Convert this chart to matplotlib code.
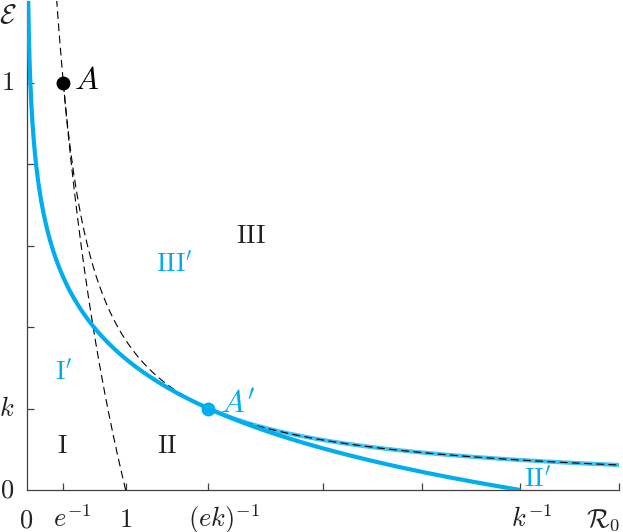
import numpy as np
import matplotlib
matplotlib.use("Agg")
import matplotlib.pyplot as plt

plt.rcParams["mathtext.fontset"] = "cm"
plt.rcParams["font.family"] = ["DejaVu Serif"]

BLUE = "#00aeef"
DARK = "#222222"

# model constant: k tick sits at 0.2, k^-1 at 5
k = 0.2
x_max, y_max = 6.0, 1.2

# special points
point_A = (np.exp(-1), 1.0)
point_A2 = (1 / (np.e * k), k)

# ticks (marks) and the labelled ones
x_tick_pos = [np.exp(-1), 1, 1 / (np.e * k), 3, 4, 1 / k, 6]
x_label_pos = [0, np.exp(-1), 1, 1 / (np.e * k), 1 / k]
x_label_txt = ["$0$", "$e^{-1}$", "$1$", "$(ek)^{-1}$", "$k^{-1}$"]
x_label_shift = [-1, 9, 0, 15, 11]  # px, centre the base, superscript hangs
y_tick_pos = [0.2, 0.4, 0.6, 0.8, 1.0]
y_label_pos = [0, k, 1.0]
y_label_txt = ["$0$", "$k$", "$1$"]

# region labels (x centre, y baseline, text, colour)
region_x = [0.355, 1.42, 2.27, 0.37, 5.17, 1.49]
region_y = [0.091, 0.091, 0.606, 0.27, 0.008, 0.535]
region_txt = [r"$\mathrm{I}$", r"$\mathrm{II}$", r"$\mathrm{III}$",
              r"$\mathrm{I}'$", r"$\mathrm{II}'$", r"$\mathrm{III}'$"]
region_col = [DARK, DARK, DARK, BLUE, BLUE, BLUE]

# curves
r_log = np.linspace(np.exp(-1.25), 1, 300)
e_log = -np.log(r_log)                      # E = -ln R0
r_hyp = np.linspace(np.exp(-1), x_max, 600)
e_hyp = 1 / (np.e * r_hyp)                   # E = 1/(e R0)
r_hyp_b = np.linspace(point_A2[0], x_max, 400)
e_hyp_b = 1 / (np.e * r_hyp_b)
r_main = np.linspace(0.006, 1 / k, 800)
e_main = -k * np.log(k * r_main)             # E = -k ln(k R0)

fig = plt.figure(figsize=(6.23, 5.32), dpi=100)
ax = fig.add_axes([27 / 623, 42 / 532, 592 / 623, 489 / 532])

ax.plot(r_hyp_b, e_hyp_b, color=BLUE, lw=3.0, alpha=0.75, zorder=2,
        solid_capstyle="butt")
ax.plot(r_log, e_log, color="black", lw=0.8, dashes=(7, 4), zorder=3)
ax.plot(r_hyp, e_hyp, color="black", lw=0.8, dashes=(7, 4), zorder=3)
ax.plot(r_main, e_main, color=BLUE, lw=3.0, zorder=4, solid_capstyle="butt")

ax.plot(*point_A, "o", color="black", ms=9, zorder=5)
ax.plot(*point_A2, "o", color=BLUE, ms=9, zorder=5)
ax.annotate("$A$", point_A, xytext=(8, -5), textcoords="offset points",
            fontsize=23, ha="left", va="baseline", color="black")
ax.annotate("$A'$", point_A2, xytext=(8, -3), textcoords="offset points",
            fontsize=23, ha="left", va="baseline", color=BLUE)

for x, y, t, c in zip(region_x, region_y, region_txt, region_col):
    ax.text(x, y, t, fontsize=19, color=c, ha="center", va="baseline")

ax.set_xlim(0, x_max)
ax.set_ylim(0, y_max)
ax.set_xticks(x_tick_pos)
ax.set_yticks(y_tick_pos)
ax.set_xticklabels([])
ax.set_yticklabels([])
ax.tick_params(direction="in", length=5, width=0.9, color="#404040")
for side in ["top", "right"]:
    ax.spines[side].set_visible(False)
for side in ["left", "bottom"]:
    ax.spines[side].set_color("#404040")
    ax.spines[side].set_linewidth(0.9)

for x, t, dx in zip(x_label_pos, x_label_txt, x_label_shift):
    ax.annotate(t, (x, 0), xycoords=("data", "axes fraction"),
                xytext=(dx * 0.72, -37 * 0.72), textcoords="offset points",
                fontsize=19, ha="center", va="baseline", color=DARK,
                annotation_clip=False)
ax.annotate(r"$\mathcal{R}_0$", (x_max, 0), xycoords=("data", "axes fraction"),
            xytext=(1 * 0.72, -37 * 0.72), textcoords="offset points",
            fontsize=19, ha="right", va="baseline", color=DARK,
            annotation_clip=False)
for y, t in zip(y_label_pos, y_label_txt):
    ax.annotate(t, (0, y), xycoords=("axes fraction", "data"),
                xytext=(-13 * 0.72, 0), textcoords="offset points",
                fontsize=19, ha="right", va="center", color=DARK,
                annotation_clip=False)
fig.text(8 / 623, 1 - 16 / 532, r"$\mathcal{E}$", fontsize=20,
         ha="center", va="center", color=DARK)

fig.savefig("out.png", dpi=100)
